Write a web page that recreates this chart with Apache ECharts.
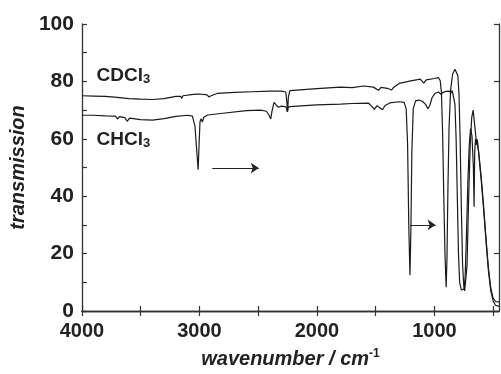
<!DOCTYPE html>
<html>
<head>
<meta charset="utf-8">
<script src="https://cdn.jsdelivr.net/npm/echarts@6/dist/echarts.min.js"></script>
<style>
  html, body { margin: 0; padding: 0; background: #fff; }
</style>
</head>
<body>
<div id="irChart" style="width: 501px;height:374px;"></div>
<script>
// CDCl3 spectrum (upper trace)
const cdclWave = [4000, 3900, 3800, 3700, 3600, 3500, 3400, 3300, 3200, 3160, 3150, 3140, 3050, 3000,
  2935, 2920, 2900, 2850, 2700, 2550, 2400, 2300, 2265, 2255, 2249, 2243, 2230, 2000, 1800, 1700,
  1600, 1520, 1475, 1455, 1400, 1365, 1345, 1300, 1200, 1120, 1090, 1070, 1000, 965, 950, 940,
  930, 920, 910, 900, 893, 885, 875, 862, 845, 825, 812, 800, 790, 780, 770, 760, 750, 742, 733,
  722, 708, 695, 682, 670, 660, 645, 625, 600, 580, 560, 540, 520, 500, 480, 450];
const cdclT = [75.0, 74.9, 74.8, 74.4, 74.0, 73.8, 73.7, 74.0, 74.8, 74.8, 74.1, 75.0, 75.5, 75.6,
  75.3, 74.6, 75.0, 75.8, 76.2, 76.4, 76.6, 76.6, 76.3, 72.5, 69.5, 74.5, 76.8, 77.5, 78.0, 77.8,
  78.4, 78.0, 76.9, 77.9, 77.6, 77.0, 78.0, 79.3, 80.2, 80.8, 79.4, 80.5, 81.0, 81.3, 80.2, 76,
  62, 40, 20, 8.3, 18, 42, 64, 77, 82.5, 84.2, 84.0, 82, 75, 58, 35, 16, 9, 7.0, 7.5,
  16, 40, 58, 67.5, 70, 66, 60, 56, 46, 36, 25, 15, 8, 4.5, 3.3, 3.2];

// CHCl3 spectrum (lower trace)
const chclWave = [4000, 3900, 3800, 3715, 3695, 3680, 3635, 3615, 3595, 3500, 3400, 3300, 3200, 3100,
  3060, 3038, 3025, 3011, 3003, 2995, 2985, 2975, 2962, 2930, 2800, 2600, 2480, 2430, 2408, 2393,
  2383, 2365, 2350, 2330, 2300, 2262, 2252, 2244, 2200, 2000, 1800, 1700, 1560, 1530, 1510, 1490,
  1470, 1442, 1420, 1380, 1300, 1258, 1240, 1228, 1218, 1208, 1200, 1192, 1180, 1160, 1130, 1100,
  1075, 1055, 1040, 1020, 995, 965, 945, 925, 900, 890, 870, 860, 848, 835, 825, 815, 805, 795,
  785, 770, 758, 748, 738, 728, 715, 703, 692, 680, 668, 662, 657, 650, 643, 635, 625, 600, 580,
  560, 540, 520, 500, 480, 450];
const chclT = [68.2, 68.2, 68.0, 67.9, 66.9, 67.7, 67.4, 66.1, 67.2, 66.7, 66.5, 67.0, 67.8, 68.2,
  67.9, 64.5, 57, 49.2, 58, 66, 67, 65.8, 67.5, 68.3, 68.9, 69.8, 70.0, 69.6, 68.3, 66.9,
  69.5, 72.7, 72.2, 71.0, 71.4, 71.1, 69.4, 71.1, 71.3, 71.8, 72.1, 72.3, 72.4, 71.2, 70.3, 71.5,
  71.0, 70.1, 71.6, 72.5, 72.9, 72.7, 70.5, 58, 30, 12.5, 28, 55, 70.5, 73.2, 73.5, 73.0,
  72.0, 70.5, 71.5, 74.3, 75.8, 76.3, 75.5, 76.2, 76.5, 76.8, 76.6, 75.9, 76.8, 76.4, 72, 60, 40, 20,
  10, 7.3, 7.0, 7.6, 12, 25, 45, 58, 63.6, 61, 50, 36.3, 55, 60, 58, 59.8, 56, 45, 35,
  24, 14, 7, 3.5, 2.0, 1.6];

const xLabels = [4000, 3000, 2000, 1000];
const xTicks = [4000, 3500, 3000, 2500, 2000, 1500, 1000, 500];

// arrows: [fromWave, toWave, level]
const arrowFrom = [2890, 1205];
const arrowTo = [2495, 990];
const arrowLevel = [49.8, 30];

// trace names and where they are written
const traceNames = ['CDCl', 'CHCl'];
const nameWave = [3875, 3875];
const nameT = [81.8, 59.6];

const font = 'Liberation Sans';
const ink = '#222';

const zip = (a, b) => a.map((v, i) => [v, b[i]]);

const axisLine = { lineStyle: { color: '#333', width: 1.3 } };

const option = {
  animation: false,
  backgroundColor: '#fff',
  grid: { left: 73, right: 2, top: 24, bottom: 63 },
  xAxis: [
    {
      type: 'value',
      inverse: true,
      min: 450,
      max: 4000,
      axisLine: axisLine,
      splitLine: { show: false },
      axisTick: { inside: true, length: 5, customValues: xTicks, lineStyle: { color: '#333', width: 1.2 } },
      axisLabel: {
        customValues: xLabels,
        formatter: v => String(v),
        color: ink,
        fontFamily: font,
        fontWeight: 'bold',
        fontSize: 20,
        margin: 10,
      },
      name: 'wavenumber / cm{sup|-1}',
      nameLocation: 'middle',
      nameGap: 37,
      nameTextStyle: {
        color: ink,
        fontFamily: font,
        fontStyle: 'italic',
        fontWeight: 'bold',
        fontSize: 20,
        rich: {
          sup: { fontFamily: font, fontWeight: 'bold', fontStyle: 'normal', fontSize: 12, color: ink, verticalAlign: 'top', padding: [0, 0, 10, 0] },
        },
      },
    },
    {
      type: 'value',
      position: 'top',
      inverse: true,
      min: 450,
      max: 4000,
      axisLine: axisLine,
      splitLine: { show: false },
      axisTick: { inside: true, length: 5, customValues: xTicks, lineStyle: { color: '#333', width: 1.2 } },
      axisLabel: { show: false },
    },
  ],
  yAxis: [
    {
      type: 'value',
      min: 0,
      max: 100,
      interval: 10,
      axisLine: axisLine,
      splitLine: { show: false },
      axisTick: { inside: true, length: 5, lineStyle: { color: '#333', width: 1.2 } },
      axisLabel: {
        color: ink,
        fontFamily: font,
        fontWeight: 'bold',
        fontSize: 21,
        margin: 8,
        formatter: v => (v % 20 === 0 ? String(v) : ''),
      },
      name: 'transmission',
      nameLocation: 'middle',
      nameGap: 43,
      nameTextStyle: {
        color: ink,
        fontFamily: font,
        fontStyle: 'italic',
        fontWeight: 'bold',
        fontSize: 20,
      },
    },
    {
      type: 'value',
      position: 'right',
      min: 0,
      max: 100,
      interval: 20,
      axisLine: axisLine,
      splitLine: { show: false },
      axisTick: { inside: true, length: 5, lineStyle: { color: '#333', width: 1.2 } },
      axisLabel: { show: false },
    },
  ],
  series: [
    {
      name: 'CDCl3',
      type: 'line',
      data: zip(cdclWave, cdclT),
      symbol: 'none',
      lineStyle: { color: '#1a1a1a', width: 1.2 },
      silent: true,
    },
    {
      name: 'CHCl3',
      type: 'line',
      data: zip(chclWave, chclT),
      symbol: 'none',
      lineStyle: { color: '#1a1a1a', width: 1.2 },
      silent: true,
      markLine: {
        silent: true,
        symbol: ['none', 'arrow'],
        symbolSize: 8,
        label: { show: false },
        lineStyle: { color: ink, width: 1, type: 'solid' },
        data: arrowFrom.map((w, i) => [
          { coord: [w, arrowLevel[i]] },
          { coord: [arrowTo[i], arrowLevel[i]] },
        ]),
      },
    },
  ],
};

const myChart = echarts.init(document.getElementById('irChart'));
myChart.setOption(option);

const graphic = traceNames.map((n, i) => {
  const p = myChart.convertToPixel({ gridIndex: 0 }, [nameWave[i], nameT[i]]);
  return {
    type: 'text',
    x: p[0],
    y: p[1],
    style: {
      text: n + '{sub|3}',
      fill: ink,
      font: 'bold 19px "' + font + '"',
      verticalAlign: 'middle',
      rich: {
        sub: { fontFamily: font, fontWeight: 'bold', fontSize: 13, fill: ink, verticalAlign: 'bottom', padding: [6, 0, 0, 0] },
      },
    },
  };
});
myChart.setOption({ graphic: graphic });
</script>
</body>
</html>
